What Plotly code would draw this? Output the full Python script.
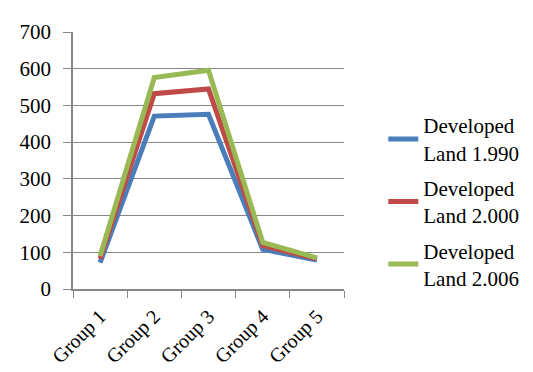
import plotly.graph_objects as go

categories = ["Group 1", "Group 2", "Group 3", "Group 4", "Group 5"]
series_names = ["Developed<br>Land 1.990", "Developed<br>Land 2.000", "Developed<br>Land 2.006"]
land_1990 = [72, 471, 476, 108, 79]
land_2000 = [82, 532, 545, 118, 82]
land_2006 = [90, 576, 596, 127, 85]
y_ticks = [0, 100, 200, 300, 400, 500, 600, 700]

colors = ["#4A7EBB", "#BE4B48", "#98B954"]

fig = go.Figure()
for i, (name, vals, c) in enumerate(zip(series_names, [land_1990, land_2000, land_2006], colors)):
    fig.add_trace(go.Scatter(x=categories, y=vals, name=name, mode="lines",
                             legendgroup=f"g{i}",
                             line=dict(color=c, width=5)))

FONT = "Liberation Serif"
fig.update_layout(
    width=533, height=372,
    margin=dict(l=59, r=197, t=18, b=91),
    paper_bgcolor="white", plot_bgcolor="white",
    font=dict(family=FONT, size=21, color="#000000"),
    showlegend=True,
    legend=dict(x=1.145, y=0.34, xanchor="left", yanchor="middle",
                font=dict(family=FONT, size=21, color="#000000"),
                tracegroupgap=5,
                bgcolor="rgba(0,0,0,0)", itemwidth=30),
    xaxis=dict(type="category", tickson="boundaries", ticks="outside", ticklen=7,
               tickcolor="#868686", showline=True, linecolor="#868686", linewidth=1.5,
               showgrid=False, tickangle=-45, ticklabelstandoff=6,
               tickfont=dict(family=FONT, size=20, color="#000000"),
               range=[-0.5, 4.5]),
    yaxis=dict(range=[0, 700], tickvals=y_ticks, ticks="outside", ticklen=8,
               tickcolor="#868686", showline=True, linecolor="#868686", linewidth=1.5,
               showgrid=True, gridcolor="#868686", gridwidth=1.2, zeroline=False,
               ticklabelstandoff=8,
               tickfont=dict(family=FONT, size=21, color="#000000")),
)
fig.write_html("out.html")
